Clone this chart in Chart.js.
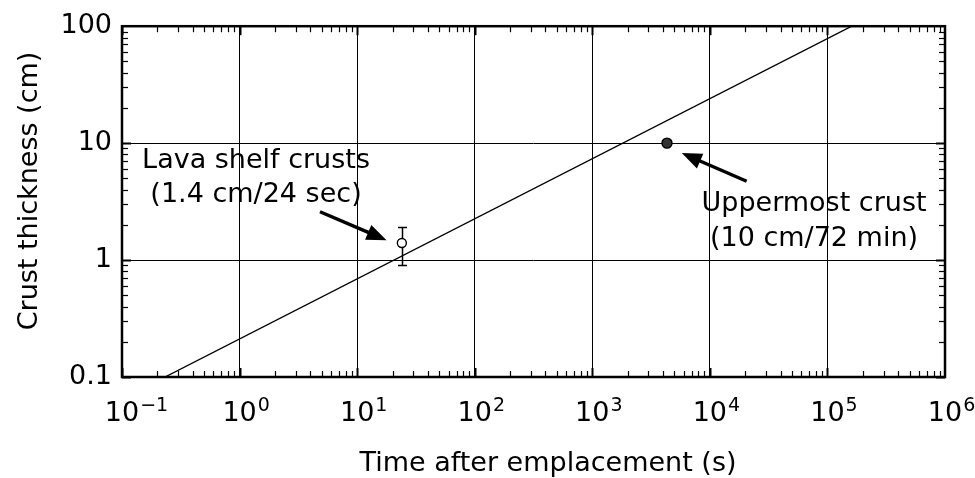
<!DOCTYPE html>
<html><head><meta charset="utf-8">
<script src="https://cdn.jsdelivr.net/npm/chart.js@4"></script>
<style>html,body{margin:0;padding:0;background:#fff}#wrap{width:975px;height:478px}</style>
</head><body><div id="wrap"><canvas id="c" width="975" height="478"></canvas></div>
<script>
// ---- data ----
const xDecades = [-1, 0, 1, 2, 3, 4, 5, 6];
const yTickValues = [0.1, 1, 10, 100];
const yTickLabels = ['0.1', '1', '10', '100'];
const fitLine = [{x: 0.232, y: 0.1}, {x: 161000, y: 100}];
const shelfPoint = [{x: 24, y: 1.4}];
const shelfErrLow = [0.9];
const shelfErrHigh = [1.9];
const upperPoint = [{x: 4320, y: 10}];
const xTitle = 'Time after emplacement (s)';
const yTitle = 'Crust thickness (cm)';
const shelfLabel = ['Lava shelf crusts', '(1.4 cm/24 sec)'];
const upperLabel = ['Uppermost crust', '(10 cm/72 min)'];

const FONT = "'DejaVu Sans', sans-serif";

const decoPlugin = {
  id: 'deco',
  afterDraw(chart) {
    const ctx = chart.ctx, a = chart.chartArea;
    const xs = chart.scales.x, ys = chart.scales.y;
    ctx.save();
    ctx.strokeStyle = '#000';
    ctx.fillStyle = '#000';
    const tick = (x1, y1, x2, y2, w) => { ctx.lineWidth = w; ctx.beginPath(); ctx.moveTo(x1, y1); ctx.lineTo(x2, y2); ctx.stroke(); };
    for (let d = -1; d < 6; d++) {
      for (let m = 1; m < 10; m++) {
        const px = Math.round(xs.getPixelForValue(m * Math.pow(10, d))) + 0.5;
        const len = m === 1 ? 9 : 6, w = m === 1 ? 2 : 1.2;
        tick(px, a.bottom, px, a.bottom - len, w);
        tick(px, a.top, px, a.top + len, w);
      }
    }
    for (let d = -1; d < 2; d++) {
      for (let m = 1; m < 10; m++) {
        const py = Math.round(ys.getPixelForValue(m * Math.pow(10, d))) + 0.5;
        const len = m === 1 ? 9 : 6, w = m === 1 ? 2 : 1.2;
        tick(a.left, py, a.left + len, py, w);
        tick(a.right, py, a.right - len, py, w);
      }
    }
    ctx.lineWidth = 2.5;
    ctx.strokeRect(a.left, a.top, a.right - a.left, a.bottom - a.top);

    // x tick labels 10^n
    xDecades.forEach(d => {
      const px = xs.getPixelForValue(Math.pow(10, d));
      ctx.font = '27px ' + FONT;
      ctx.textAlign = 'center';
      ctx.textBaseline = 'alphabetic';
      const w = ctx.measureText('10').width;
      ctx.fillText('10', px, 421);
      ctx.font = '19px ' + FONT;
      ctx.textAlign = 'left';
      ctx.fillText(String(d).replace('-', '\u2212'), px + w / 2 + 1, 411);
    });

    // axis titles
    ctx.font = '27px ' + FONT;
    ctx.textAlign = 'center';
    ctx.textBaseline = 'alphabetic';
    ctx.fillText(xTitle, 548, 471);
    ctx.save();
    ctx.translate(37, 191);
    ctx.rotate(-Math.PI / 2);
    ctx.fillText(yTitle, 0, 0);
    ctx.restore();

    // error bar on shelf point
    shelfPoint.forEach((p, i) => {
      const px = Math.round(xs.getPixelForValue(p.x)) + 0.5;
      const y1 = ys.getPixelForValue(shelfErrLow[i]), y2 = ys.getPixelForValue(shelfErrHigh[i]);
      const yc = ys.getPixelForValue(p.y);
      ctx.lineWidth = 1.5;
      ctx.beginPath();
      ctx.moveTo(px, y1); ctx.lineTo(px, yc + 4.5);
      ctx.moveTo(px, yc - 4.5); ctx.lineTo(px, y2);
      ctx.moveTo(px - 4.5, y1); ctx.lineTo(px + 4.5, y1);
      ctx.moveTo(px - 4.5, y2); ctx.lineTo(px + 4.5, y2);
      ctx.stroke();
    });

    // annotations
    const arrow = (x0, y0, x1, y1) => {
      const ang = Math.atan2(y1 - y0, x1 - x0), L = 20, W = 8;
      const bx = x1 - L * Math.cos(ang), by = y1 - L * Math.sin(ang);
      ctx.lineWidth = 3.5;
      ctx.beginPath(); ctx.moveTo(x0, y0); ctx.lineTo(bx + 2 * Math.cos(ang), by + 2 * Math.sin(ang)); ctx.stroke();
      ctx.beginPath();
      ctx.moveTo(x1, y1);
      ctx.lineTo(bx + W * Math.sin(ang), by - W * Math.cos(ang));
      ctx.lineTo(bx - W * Math.sin(ang), by + W * Math.cos(ang));
      ctx.closePath(); ctx.fill();
    };
    const P = (x, y) => [xs.getPixelForValue(x), ys.getPixelForValue(y)];
    ctx.font = '27px ' + FONT;
    ctx.textAlign = 'center';
    const [lx, ly1] = P(1.38, 6.1); const ly2 = ys.getPixelForValue(3.13);
    ctx.fillText(shelfLabel[0], lx, ly1);
    ctx.fillText(shelfLabel[1], lx, ly2);
    const [ux, uy1] = P(76900, 2.62); const uy2 = ys.getPixelForValue(1.32);
    ctx.fillText(upperLabel[0], ux, uy1);
    ctx.fillText(upperLabel[1], ux, uy2);
    arrow(...P(4.83, 2.59), ...P(17.8, 1.48));
    arrow(...P(20560, 4.72), ...P(5770, 8.22));
    ctx.restore();
  }
};

new Chart(document.getElementById('c'), {
  type: 'scatter',
  data: {
    datasets: [
      { type: 'line', data: fitLine, borderColor: '#000', borderWidth: 1.4, pointRadius: 0, fill: false, tension: 0 },
      { data: shelfPoint, pointStyle: 'circle', pointRadius: 4.5, backgroundColor: '#fff', borderColor: '#000', borderWidth: 1.4 },
      { data: upperPoint, pointStyle: 'circle', pointRadius: 5, backgroundColor: '#333', borderColor: '#000', borderWidth: 1.4 }
    ]
  },
  options: {
    responsive: false,
    devicePixelRatio: 1,
    animation: false,
    events: [],
    layout: { padding: { left: 0, right: 30, top: 24, bottom: 0 } },
    plugins: { legend: { display: false }, tooltip: { enabled: false }, title: { display: false } },
    scales: {
      x: {
        type: 'logarithmic', min: 0.1, max: 1e6,
        afterBuildTicks: s => { s.ticks = xDecades.map(d => ({ value: Math.pow(10, d) })); },
        afterFit: s => { s.height = 101; },
        ticks: { display: false },
        grid: { color: '#000', lineWidth: 1, drawTicks: false },
        border: { display: false }
      },
      y: {
        type: 'logarithmic', min: 0.1, max: 100,
        afterBuildTicks: s => { s.ticks = yTickValues.map(v => ({ value: v })); },
        afterFit: s => { s.width = 122; },
        ticks: {
          color: '#000', padding: 10, font: { family: FONT, size: 27 },
          callback: (v) => { const i = yTickValues.indexOf(v); return i >= 0 ? yTickLabels[i] : ''; }
        },
        grid: { color: '#000', lineWidth: 1, drawTicks: false },
        border: { display: false }
      }
    }
  },
  plugins: [decoPlugin]
});
</script>
</body></html>
